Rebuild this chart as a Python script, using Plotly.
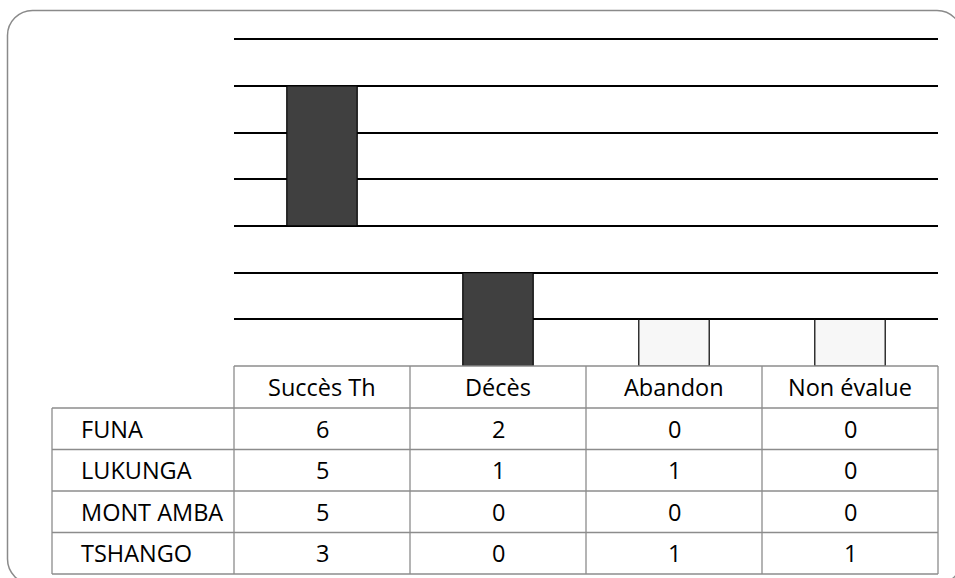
import plotly.graph_objects as go

categories = ["Succès Th", "Décès", "Abandon", "Non évalue"]
regions = ["FUNA", "LUKUNGA", "MONT AMBA", "TSHANGO"]
funa = [6, 2, 0, 0]
lukunga = [5, 1, 1, 0]
mont_amba = [5, 0, 0, 0]
tshango = [3, 0, 1, 1]
series = [funa, lukunga, mont_amba, tshango]

W, H = 955, 578
def px(x):
    return x / W
def py(y):
    return 1 - y / H

FONT = "Open Sans"
FS = 23.5
GRAY = "#8c8c8c"

# Up/down bars between the first and the last series
first, last = series[0], series[-1]
up_x, up_base, up_h = [], [], []
dn_x, dn_base, dn_h = [], [], []
for i, c in enumerate(categories):
    lo, hi = min(first[i], last[i]), max(first[i], last[i])
    if last[i] >= first[i]:
        up_x.append(i); up_base.append(lo); up_h.append(hi - lo)
    else:
        dn_x.append(i); dn_base.append(lo); dn_h.append(hi - lo)

fig = go.Figure()
fig.add_trace(go.Bar(x=dn_x, y=dn_h, base=dn_base, width=0.4,
                     marker=dict(color="#404040", line=dict(color="#000000", width=1.2)),
                     showlegend=False, hoverinfo="skip"))
fig.add_trace(go.Bar(x=up_x, y=up_h, base=up_base, width=0.4,
                     marker=dict(color="#f7f7f7", line=dict(color="#000000", width=1.2)),
                     showlegend=False, hoverinfo="skip"))

x0, x1 = 234, 938
y_axis = 366
unit = 46.7
ymax = 7.1
y_top = y_axis - ymax * unit

fig.update_layout(
    width=W, height=H,
    margin=dict(l=0, r=0, t=0, b=0),
    paper_bgcolor="white", plot_bgcolor="rgba(0,0,0,0)",
    barmode="overlay",
    xaxis=dict(domain=[px(x0), px(x1)], range=[-0.5, len(categories) - 0.5],
               showgrid=False, showticklabels=False, zeroline=False,
               showline=False, ticks="", fixedrange=True),
    yaxis=dict(domain=[py(y_axis), py(y_top)], range=[0, ymax],
               tickvals=[1, 2, 3, 4, 5, 6, 7], showticklabels=False,
               showgrid=True, gridcolor="#000000", gridwidth=1.6,
               zeroline=False, showline=False, ticks="", fixedrange=True),
    font=dict(family=FONT, size=FS, color="#000000"),
)

shapes = []
# rounded outer border
bl, bt, br, bb, r = 7.5, 10.5, 962, 584, 25
k = 0.45
path = (f"M {px(bl)},{py(bt + r)} "
        f"C {px(bl)},{py(bt + r * k)} {px(bl + r * k)},{py(bt)} {px(bl + r)},{py(bt)} "
        f"L {px(br - r)},{py(bt)} "
        f"C {px(br - r * k)},{py(bt)} {px(br)},{py(bt + r * k)} {px(br)},{py(bt + r)} "
        f"L {px(br)},{py(bb - r)} "
        f"C {px(br)},{py(bb - r * k)} {px(br - r * k)},{py(bb)} {px(br - r)},{py(bb)} "
        f"L {px(bl + r)},{py(bb)} "
        f"C {px(bl + r * k)},{py(bb)} {px(bl)},{py(bb - r * k)} {px(bl)},{py(bb - r)} Z")
shapes.append(dict(type="path", xref="paper", yref="paper", path=path,
                   line=dict(color="#8a8a8a", width=1.5), layer="below"))

# data table
tl = 52
col_edges = [234, 410, 586, 762, 938]
row_edges = [366, 408, 449.5, 491, 532.5, 574]
def hline(y, xa, xb):
    shapes.append(dict(type="line", xref="paper", yref="paper",
                       x0=px(xa), x1=px(xb), y0=py(y), y1=py(y),
                       line=dict(color=GRAY, width=1.3)))
def vline(x, ya, yb):
    shapes.append(dict(type="line", xref="paper", yref="paper",
                       x0=px(x), x1=px(x), y0=py(ya), y1=py(yb),
                       line=dict(color=GRAY, width=1.3)))
hline(row_edges[0], col_edges[0], col_edges[-1])
for y in row_edges[1:]:
    hline(y, tl, col_edges[-1])
for x in col_edges:
    vline(x, row_edges[0], row_edges[-1])
vline(tl, row_edges[1], row_edges[-1])

fig.update_layout(shapes=shapes)

ann = []
hc = (row_edges[0] + row_edges[1]) / 2
for i, c in enumerate(categories):
    ann.append(dict(x=i, xref="x", y=py(hc), yref="paper", text=c,
                    showarrow=False, xanchor="center", yanchor="middle"))
for j, reg in enumerate(regions):
    yc = (row_edges[j + 1] + row_edges[j + 2]) / 2
    ann.append(dict(x=px(79), xref="paper", y=py(yc), yref="paper", text=reg,
                    showarrow=False, xanchor="left", yanchor="middle"))
    for i in range(len(categories)):
        ann.append(dict(x=i, xref="x", y=py(yc), yref="paper", text=str(series[j][i]),
                        showarrow=False, xanchor="center", yanchor="middle"))
fig.update_layout(annotations=ann)

fig.write_html("out.html")
